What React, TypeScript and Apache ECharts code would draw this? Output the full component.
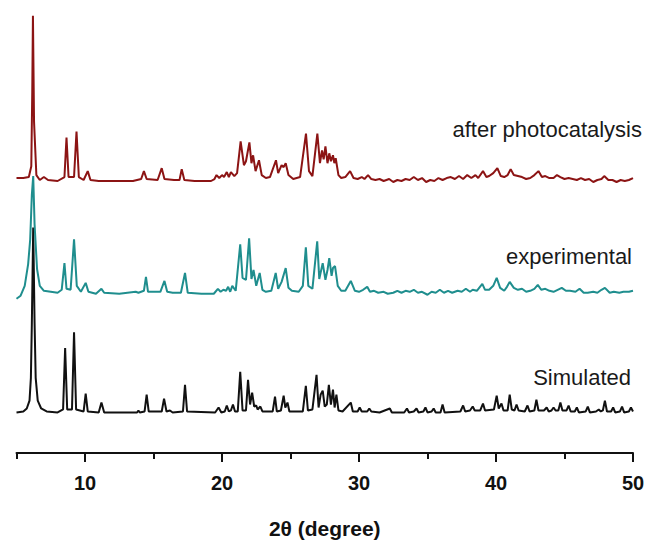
import React, { useEffect, useRef } from "react";
import * as echarts from "echarts";

// 2θ (degree) vs intensity (arbitrary units, baseline-relative)
const simulated: number[][] = [
  [5.0,0],[5.5,1],[5.75,4],[5.95,12],[6.05,35],[6.12,90],[6.22,187],[6.32,90],[6.4,35],[6.55,12],[6.8,4],[7.2,1],[8.0,0],[8.4,3],[8.55,65],[8.7,3],[9.05,3],[9.2,81],[9.35,3],[9.9,1],[10.05,19],[10.2,1],[11.0,0],[11.2,10],[11.4,0],[13.8,0],[13.9,2],[14.0,0],[14.35,1],[14.5,18],[14.65,1],[15.6,1],[15.77,14],[15.95,1],[16.2,2],[16.4,0],[17.15,1],[17.3,28],[17.45,1],[19.5,0],[19.75,5],[19.95,0],[20.2,1],[20.35,7],[20.5,1],[20.65,2],[20.8,8],[20.95,1],[21.15,1],[21.33,41],[21.5,2],[21.75,2],[21.9,33],[22.05,8],[22.2,20],[22.35,6],[22.5,7],[22.6,3],[22.8,6],[22.95,1],[23.7,1],[23.87,16],[24.0,1],[24.3,2],[24.5,17],[24.62,5],[24.78,10],[24.92,1],[25.9,1],[26.12,27],[26.27,2],[26.6,3],[26.9,38],[27.05,5],[27.2,18],[27.35,22],[27.5,6],[27.65,8],[27.8,28],[27.95,8],[28.1,23],[28.22,5],[28.35,18],[28.5,2],[28.8,1],[29.4,10],[29.55,1],[29.9,1],[30.05,5],[30.2,1],[30.6,1],[30.75,4],[30.9,1],[31.5,0],[32.25,4],[32.4,0],[33.3,0],[33.5,4],[33.65,0],[34.0,1],[34.2,4],[34.35,0],[34.7,1],[34.85,5],[35.0,0],[35.3,1],[35.45,4],[35.6,0],[35.95,0],[36.1,8],[36.25,0],[37.4,1],[37.6,7],[37.75,1],[38.1,2],[38.3,6],[38.45,2],[38.85,2],[39.05,9],[39.2,2],[39.85,3],[40.05,17],[40.2,4],[40.4,9],[40.55,2],[40.85,2],[41.0,18],[41.15,3],[41.35,2],[41.5,8],[41.65,2],[42.1,1],[42.3,7],[42.45,1],[42.8,2],[42.95,13],[43.1,2],[43.5,2],[43.7,5],[43.85,1],[44.05,2],[44.2,5],[44.35,2],[44.55,2],[44.7,10],[44.85,2],[45.15,2],[45.3,7],[45.45,1],[45.75,1],[45.9,5],[46.05,0],[46.55,1],[46.7,6],[46.85,0],[47.3,1],[47.5,3],[47.65,1],[47.8,2],[47.95,12],[48.1,1],[48.4,1],[48.55,5],[48.7,0],[49.05,1],[49.2,6],[49.35,0],[49.7,1],[49.85,5],[50.0,1]
];

const experimental: number[][] = [
  [5.0,-5],[5.3,-2],[5.6,8],[5.85,30],[6.0,55],[6.12,100],[6.22,119],[6.32,70],[6.5,25],[6.7,8],[7.0,3],[7.5,2],[8.0,1],[8.3,4],[8.5,31],[8.65,5],[8.95,4],[9.2,55],[9.4,8],[9.7,2],[10.05,11],[10.25,2],[10.8,0],[11.2,5],[11.4,1],[12.5,0],[13.7,2],[13.9,1],[14.3,3],[14.45,17],[14.6,2],[15.5,2],[15.8,13],[16.0,2],[16.4,1],[17.0,1],[17.3,21],[17.5,1],[18.5,0],[19.4,0],[19.7,5],[19.9,2],[20.1,4],[20.3,3],[20.45,7],[20.6,2],[20.75,8],[21.0,3],[21.33,50],[21.5,16],[21.75,14],[21.98,56],[22.15,15],[22.3,24],[22.5,8],[22.75,21],[22.95,4],[23.2,2],[23.6,3],[23.92,21],[24.1,5],[24.35,12],[24.65,26],[24.85,6],[25.1,3],[25.6,2],[25.9,8],[26.12,47],[26.3,8],[26.6,5],[26.95,53],[27.1,15],[27.35,31],[27.55,14],[27.7,24],[27.83,36],[28.0,18],[28.1,26],[28.25,28],[28.45,8],[28.7,3],[29.0,3],[29.4,13],[29.7,3],[30.0,2],[30.3,4],[30.6,7],[30.8,2],[31.1,3],[31.4,1],[31.8,2],[32.1,0],[32.5,1],[32.8,3],[33.1,1],[33.4,3],[33.7,2],[34.0,4],[34.3,1],[34.6,2],[35.0,-1],[35.3,2],[35.6,1],[35.9,4],[36.2,1],[36.5,3],[36.8,1],[37.2,3],[37.5,2],[37.8,5],[38.1,2],[38.3,4],[38.6,3],[39.0,10],[39.2,4],[39.5,4],[39.8,8],[40.05,16],[40.3,6],[40.6,3],[40.8,7],[41.0,12],[41.3,6],[41.6,4],[41.9,5],[42.2,2],[42.5,3],[42.8,5],[43.05,9],[43.3,4],[43.6,5],[43.9,3],[44.2,2],[44.5,4],[44.8,6],[45.1,3],[45.4,3],[45.8,2],[46.1,5],[46.4,1],[46.7,1],[47.1,2],[47.4,1],[47.7,4],[47.95,6],[48.3,1],[48.6,2],[49.0,1],[49.3,2],[49.7,2],[50.0,3]
];

const afterPhotocatalysis: number[][] = [
  [5.0,3],[5.5,3],[5.9,4],[6.08,15],[6.15,90],[6.2,167],[6.28,60],[6.45,6],[6.7,1],[7.0,4],[7.3,1],[8.0,0],[8.5,4],[8.65,44],[8.8,4],[9.2,4],[9.38,50],[9.55,4],[9.9,1],[10.2,10],[10.4,1],[11.0,0],[12.5,0],[13.5,0],[14.1,2],[14.3,10],[14.5,2],[15.3,1],[15.6,13],[15.8,2],[16.5,1],[16.9,1],[17.06,12],[17.25,1],[18.0,0],[19.2,0],[19.45,2],[19.6,6],[19.8,3],[20.0,6],[20.15,4],[20.35,9],[20.5,4],[20.65,9],[20.9,5],[21.1,8],[21.36,40],[21.6,16],[21.75,20],[22.0,39],[22.15,18],[22.27,26],[22.45,10],[22.7,21],[22.9,6],[23.2,3],[23.5,4],[23.94,21],[24.1,8],[24.35,16],[24.5,14],[24.65,18],[24.85,6],[25.2,2],[25.7,4],[26.13,48],[26.35,10],[26.6,5],[26.96,48],[27.15,18],[27.3,31],[27.42,22],[27.55,35],[27.7,18],[27.83,28],[27.95,20],[28.1,26],[28.2,18],[28.3,23],[28.5,6],[28.7,3],[29.0,4],[29.35,10],[29.6,3],[29.9,2],[30.2,4],[30.4,2],[30.66,6],[30.9,2],[31.2,1],[31.5,2],[31.8,0],[32.2,2],[32.5,-1],[32.8,1],[33.1,0],[33.4,2],[33.7,1],[34.0,4],[34.3,1],[34.6,3],[34.9,-1],[35.2,1],[35.5,0],[35.8,3],[36.1,1],[36.4,3],[36.7,4],[37.0,2],[37.3,5],[37.6,2],[37.9,6],[38.2,3],[38.5,6],[38.7,3],[39.05,10],[39.3,4],[39.5,5],[39.8,8],[40.1,13],[40.35,5],[40.6,4],[40.85,6],[41.07,12],[41.3,6],[41.6,5],[41.9,4],[42.2,2],[42.5,3],[42.8,6],[43.1,10],[43.35,4],[43.6,5],[43.9,3],[44.2,3],[44.45,6],[44.7,4],[45.0,2],[45.3,3],[45.6,2],[45.9,1],[46.2,3],[46.5,1],[46.8,2],[47.1,-1],[47.4,1],[47.7,2],[47.9,5],[48.2,1],[48.5,1],[48.8,-1],[49.1,1],[49.4,0],[49.7,1],[50.0,3]
];

// vertical stacking offsets of each pattern
const offsetSimulated = 41;
const offsetExperimental = 161;
const offsetAfter = 275;

const majorTicks = [10, 20, 30, 40, 50];
const minorTicks = [5, 15, 25, 35, 45];
const seriesNames = ["Simulated", "experimental", "after photocatalysis"];

const shift = (arr: number[][], off: number) => arr.map(([x, y]) => [x, y + off]);

export default function App() {
  const ref = useRef<HTMLDivElement>(null);
  useEffect(() => {
    if (!ref.current) return;
    const chart = echarts.init(ref.current, null, { renderer: "svg" });
    const font = '"Liberation Sans", Arial, sans-serif';
    chart.setOption({
      animation: false,
      backgroundColor: "#ffffff",
      grid: { left: 16.5, right: 17, top: 0, bottom: 86, containLabel: false },
      xAxis: [
        {
          type: "value",
          min: 5,
          max: 50,
          position: "bottom",
          axisLine: { show: true, lineStyle: { color: "#111", width: 2 } },
          axisTick: { show: true, customValues: majorTicks, length: 9, lineStyle: { color: "#111", width: 2 } },
          axisLabel: {
            show: true,
            customValues: majorTicks,
            margin: 20,
            fontSize: 20,
            fontWeight: "bold",
            fontFamily: font,
            color: "#111",
          },
          splitLine: { show: false },
          name: "2θ (degree)",
          nameLocation: "middle",
          nameGap: 65,
          nameTextStyle: { fontSize: 21, fontWeight: "bold", fontFamily: font, color: "#111" },
        },
        {
          type: "value",
          min: 5,
          max: 50,
          position: "bottom",
          offset: 0,
          axisLine: { show: false },
          axisTick: { show: true, customValues: minorTicks, length: 6, lineStyle: { color: "#111", width: 2 } },
          axisLabel: { show: false },
          splitLine: { show: false },
        },
      ],
      yAxis: { type: "value", min: 0, max: 458, show: false, splitLine: { show: false } },
      series: [
        {
          name: seriesNames[0],
          type: "line",
          data: shift(simulated, offsetSimulated),
          showSymbol: false,
          symbol: "none",
          lineStyle: { color: "#111111", width: 2 },
          z: 2,
        },
        {
          name: seriesNames[1],
          type: "line",
          data: shift(experimental, offsetExperimental),
          showSymbol: false,
          symbol: "none",
          lineStyle: { color: "#1f8e8e", width: 2 },
          z: 3,
        },
        {
          name: seriesNames[2],
          type: "line",
          data: shift(afterPhotocatalysis, offsetAfter),
          showSymbol: false,
          symbol: "none",
          lineStyle: { color: "#8c1414", width: 2 },
          z: 4,
        },
      ],
      graphic: [
        { type: "text", right: 8, top: 118, style: { text: seriesNames[2], font: `22px ${font}`, fill: "#1a1a1a" } },
        { type: "text", right: 18, top: 245, style: { text: seriesNames[1], font: `22px ${font}`, fill: "#1a1a1a" } },
        { type: "text", right: 19, top: 366, style: { text: seriesNames[0], font: `22px ${font}`, fill: "#1a1a1a" } },
      ],
    });
    return () => chart.dispose();
  }, []);
  return <div ref={ref} style={{ position: "fixed", left: 0, top: 0, width: 650, height: 544 }} />;
}
